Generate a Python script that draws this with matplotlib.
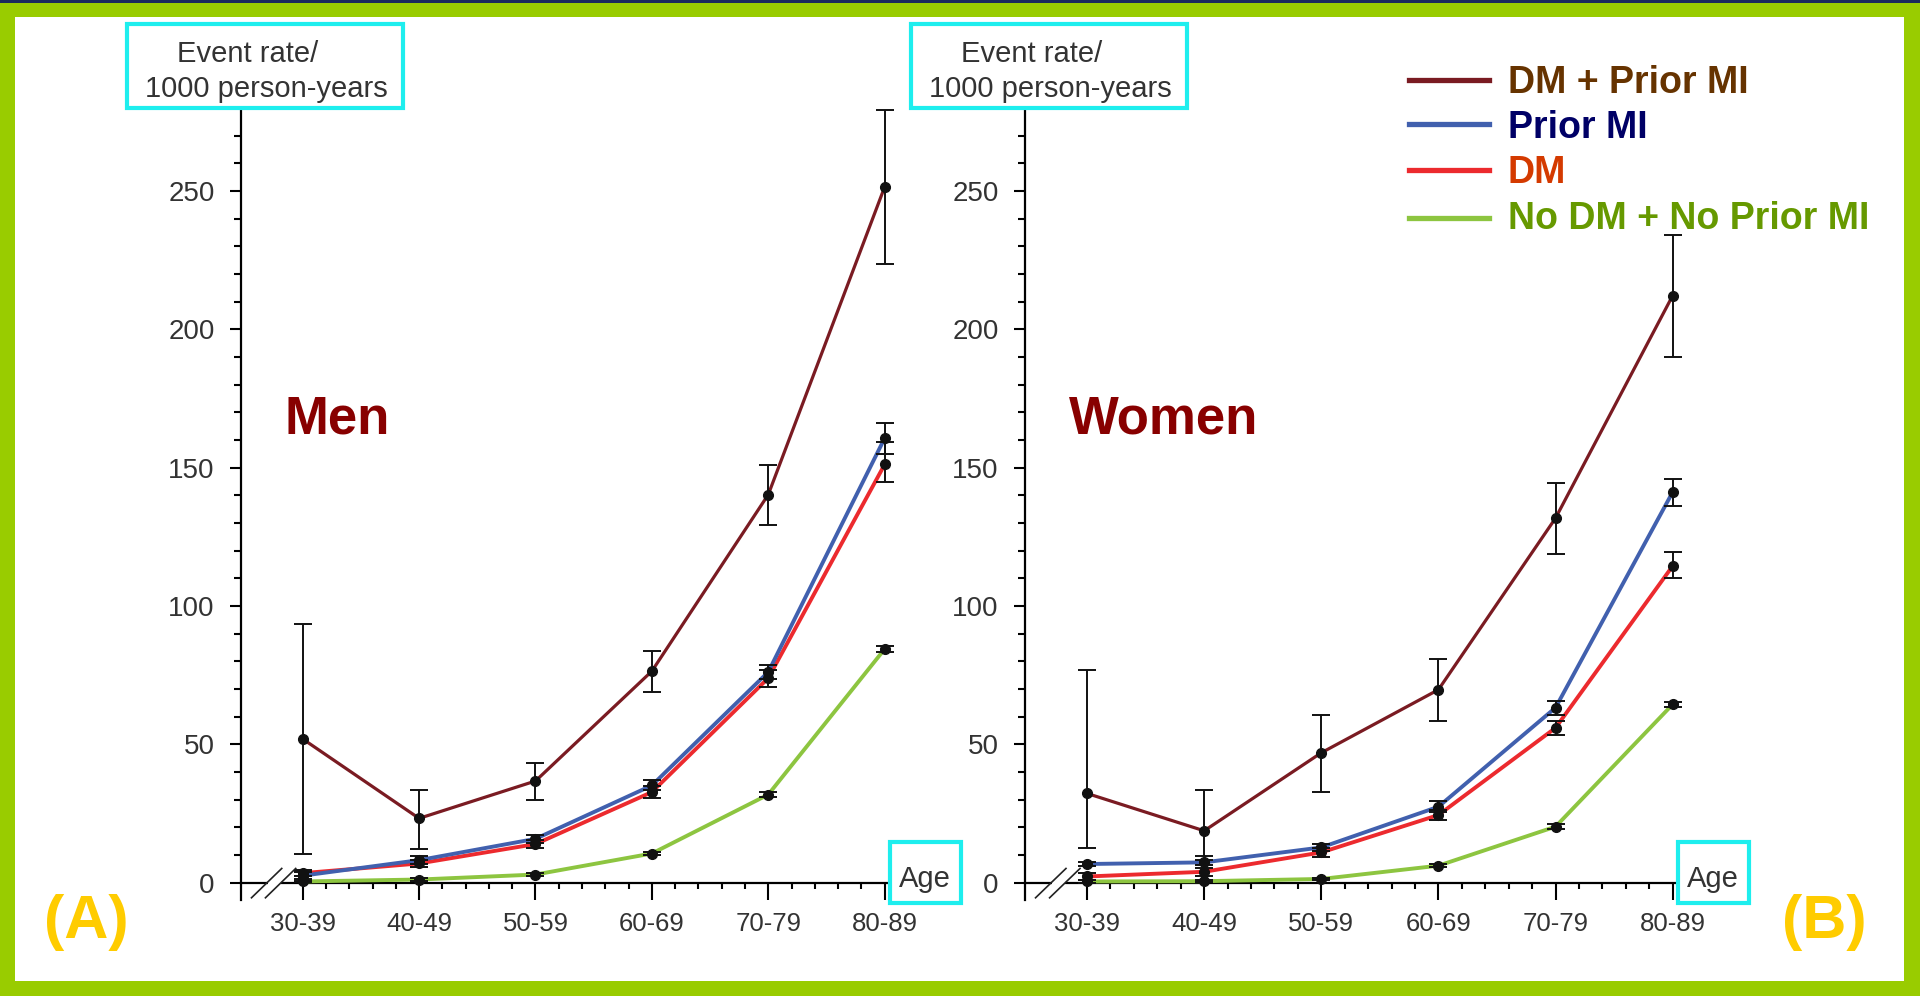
import matplotlib
matplotlib.use('Agg')
import matplotlib.pyplot as plt
from matplotlib.patches import Rectangle
from matplotlib.lines import Line2D
from matplotlib.ticker import MultipleLocator, FixedLocator

# ---------------- data ----------------
age_groups = ['30-39', '40-49', '50-59', '60-69', '70-79', '80-89']
series_names = ['DM + Prior MI', 'Prior MI', 'DM', 'No DM + No Prior MI']
line_colors = ['#7A1B22', '#4160AE', '#EC2A2E', '#8DC540']
label_colors = ['#663300', '#000066', '#D43A00', '#669900']
panel_titles = ['Men', 'Women']
panel_tags = ['(A)', '(B)']

# Men
men_dm_mi = [52.0, 23.3, 36.8, 76.5, 140.3, 251.5]
men_dm_mi_lo = [10.3, 12.3, 30.0, 69.0, 129.3, 223.6]
men_dm_mi_hi = [93.6, 33.7, 43.2, 83.7, 151.0, 279.3]
men_mi = [2.6, 8.2, 15.9, 35.2, 76.2, 160.7]
men_mi_lo = [1.4, 6.8, 14.4, 33.4, 73.8, 155.0]
men_mi_hi = [3.8, 9.6, 17.4, 37.0, 78.6, 166.3]
men_dm = [3.5, 7.0, 14.0, 32.8, 74.0, 151.2]
men_dm_lo = [2.3, 5.7, 12.5, 30.6, 70.8, 145.0]
men_dm_hi = [4.7, 8.3, 15.5, 35.0, 77.0, 159.3]
men_none = [0.5, 1.2, 3.0, 10.6, 31.9, 84.5]
men_none_lo = [0.2, 0.8, 2.5, 9.9, 31.1, 83.4]
men_none_hi = [0.8, 1.6, 3.5, 11.3, 32.7, 85.6]

# Women
women_dm_mi = [32.3, 18.8, 47.0, 69.8, 131.8, 212.2]
women_dm_mi_lo = [12.6, 9.8, 32.9, 58.5, 119.0, 190.0]
women_dm_mi_hi = [77.0, 33.7, 60.8, 81.0, 144.5, 234.0]
women_mi = [6.8, 7.4, 12.8, 27.5, 63.3, 141.2]
women_mi_lo = [6.0, 6.4, 11.4, 25.6, 60.8, 136.0]
women_mi_hi = [7.6, 8.4, 14.2, 29.4, 65.8, 146.0]
women_dm = [2.3, 4.0, 11.0, 24.5, 56.0, 114.5]
women_dm_lo = [0.9, 2.6, 9.5, 22.7, 53.6, 110.0]
women_dm_hi = [3.7, 5.4, 12.5, 26.3, 58.4, 119.5]
women_none = [0.5, 0.6, 1.4, 6.2, 20.3, 64.5]
women_none_lo = [0.1, 0.2, 0.9, 5.6, 19.5, 63.6]
women_none_hi = [0.9, 1.0, 1.9, 6.8, 21.1, 65.4]

panels = [
    [(men_dm_mi, men_dm_mi_lo, men_dm_mi_hi), (men_mi, men_mi_lo, men_mi_hi),
     (men_dm, men_dm_lo, men_dm_hi), (men_none, men_none_lo, men_none_hi)],
    [(women_dm_mi, women_dm_mi_lo, women_dm_mi_hi), (women_mi, women_mi_lo, women_mi_hi),
     (women_dm, women_dm_lo, women_dm_hi), (women_none, women_none_lo, women_none_hi)],
]

# ---------------- figure ----------------
W, H = 1920, 996
fig = plt.figure(figsize=(W / 100, H / 100), dpi=100)
fig.patch.set_facecolor('#99CC00')

def fx(px):
    return px / W

def fy(py):
    return 1 - py / H

# white inner area and navy top line
fig.patches.append(Rectangle((fx(15), fy(981)), fx(1904) - fx(15), fy(17) - fy(981),
                             transform=fig.transFigure, facecolor='white', edgecolor='none', zorder=-10))
fig.patches.append(Rectangle((0, fy(3)), 1, fy(0) - fy(3), transform=fig.transFigure,
                             facecolor='#1B2A5C', edgecolor='none', zorder=-9))

NARROW = ['Liberation Sans Narrow', 'Liberation Sans', 'DejaVu Sans']
REG = ['Liberation Sans', 'DejaVu Sans']
TXT = '#333333'
CYAN = '#1EEEEE'

axes_px = [(241, 887), (1025, 1675)]
xlim = (-0.53, 5.02)
ylim = (-6.2, 280)
x = list(range(len(age_groups)))
lws = [2.3, 2.8, 2.8, 2.8]

for p, (x0, x1) in enumerate(axes_px):
    ax = fig.add_axes([fx(x0), fy(900), fx(x1) - fx(x0), fy(108) - fy(900)])
    ax.set_facecolor('none')
    ax.set_xlim(*xlim)
    ax.set_ylim(*ylim)
    for s in ['top', 'right']:
        ax.spines[s].set_visible(False)
    ax.spines['bottom'].set_position(('data', 0))
    for s in ['left', 'bottom']:
        ax.spines[s].set_linewidth(1.6)

    # draw from bottom series upward
    for i in [3, 2, 1, 0]:
        vals, lo, hi = panels[p][i]
        ax.plot(x, vals, color=line_colors[i], lw=lws[i], zorder=3 + (3 - i) * 0.1,
                solid_capstyle='round')
        yerr = [[v - l for v, l in zip(vals, lo)], [h - v for v, h in zip(vals, hi)]]
        ax.errorbar(x, vals, yerr=yerr, fmt='none', ecolor='#111111', elinewidth=1.4,
                    capsize=6.5, capthick=1.4, zorder=4, clip_on=False)
        ax.plot(x, vals, linestyle='none', marker='o', ms=7, mfc='#111111', mec='#111111',
                zorder=5, clip_on=False)

    ax.set_xticks(x)
    ax.set_xticklabels(age_groups)
    ax.xaxis.set_minor_locator(FixedLocator([i + k / 5 for i in range(5) for k in range(1, 5)]))
    ax.set_yticks([0, 50, 100, 150, 200, 250])
    ax.yaxis.set_minor_locator(MultipleLocator(10))
    ax.tick_params(axis='x', which='major', direction='out', length=12, width=1.5,
                   pad=9, labelsize=18.5, labelcolor=TXT)
    ax.tick_params(axis='x', which='minor', direction='out', length=4.5, width=1.5)
    ax.tick_params(axis='y', which='major', direction='out', length=8, width=1.5,
                   pad=11, labelsize=20, labelcolor=TXT)
    ax.tick_params(axis='y', which='minor', direction='out', length=5, width=1.5)
    for lbl in ax.get_xticklabels():
        lbl.set_family(NARROW)
    for lbl in ax.get_yticklabels():
        lbl.set_family(REG)

    # axis break marks
    ax.plot([-0.30, -0.19], [0, 0], color='white', lw=3, zorder=6, clip_on=False,
            solid_capstyle='butt')
    ax.plot([-0.44, -0.18], [-5.4, 5.2], color='#222222', lw=1.2, zorder=7, clip_on=False)
    ax.plot([-0.32, -0.06], [-5.4, 5.2], color='#222222', lw=1.2, zorder=7, clip_on=False)

    # y label box
    bx0 = x0 - 114
    fig.patches.append(Rectangle((fx(bx0), fy(108)), fx(bx0 + 276) - fx(bx0), fy(24) - fy(108),
                                 transform=fig.transFigure, facecolor='white', edgecolor=CYAN,
                                 lw=3, zorder=5))
    fig.text(fx(bx0 + 50), fy(62), 'Event rate/', fontsize=21, color=TXT, family=REG,
             va='baseline', ha='left', zorder=6)
    fig.text(fx(bx0 + 18), fy(97), '1000 person-years', fontsize=21, color=TXT, family=REG,
             va='baseline', ha='left', zorder=6)

    # Age box
    fig.patches.append(Rectangle((fx(x1 + 3), fy(903)), fx(71), fy(842) - fy(903),
                                 transform=fig.transFigure, facecolor='white', edgecolor=CYAN,
                                 lw=3, zorder=5))
    fig.text(fx(x1 + 38), fy(879), 'Age', fontsize=21, color=TXT, family=NARROW,
             va='center', ha='center', zorder=6)

    # panel title
    fig.text(fx(x0 + 44), fy(433), panel_titles[p], fontsize=38, fontweight='bold',
             color='#880000', family=REG, va='baseline', ha='left')

# panel tags
fig.text(fx(86), fy(922), panel_tags[0], fontsize=44, fontweight='bold', color='#FFCC00',
         family=REG, va='center', ha='center')
fig.text(fx(1824), fy(922), panel_tags[1], fontsize=44, fontweight='bold', color='#FFCC00',
         family=REG, va='center', ha='center')

# legend
leg_line_y = [80, 124, 170, 218]
leg_text_y = [93, 138, 183, 229]
for i, name in enumerate(series_names):
    fig.lines.append(Line2D([fx(1409), fx(1489)], [fy(leg_line_y[i]), fy(leg_line_y[i])],
                            transform=fig.transFigure, color=line_colors[i], lw=3.8))
    fig.text(fx(1508), fy(leg_text_y[i]), name, fontsize=27, fontweight='bold',
             color=label_colors[i], family=REG, va='baseline', ha='left')

fig.savefig('out.png', dpi=100, facecolor=fig.get_facecolor())
